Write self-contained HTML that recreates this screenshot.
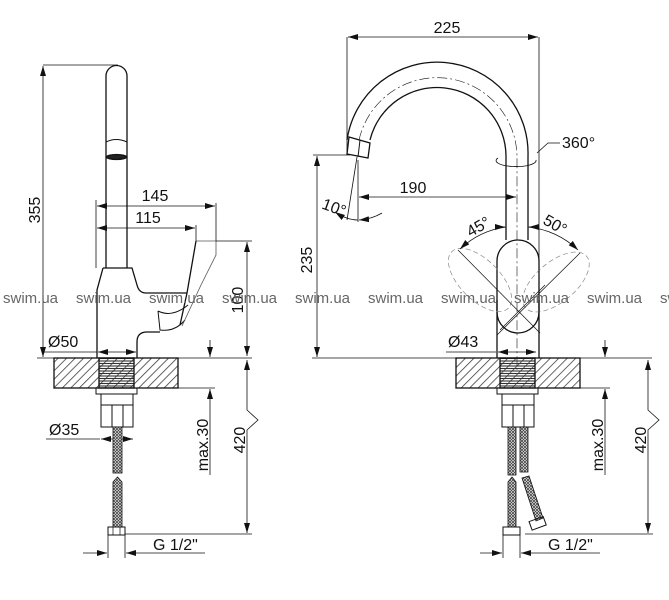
<!DOCTYPE html>
<html><head><meta charset="utf-8"><style>
html,body{margin:0;padding:0;background:#fff;}
svg{display:block;}
text{font-family:"Liberation Sans",sans-serif;fill:#111;}
.w{font-size:15px;fill:#666;}
</style></head><body>
<svg width="669" height="600" viewBox="0 0 669 600" xmlns="http://www.w3.org/2000/svg">
<defs>
<marker id="a" viewBox="0 0 10 6" refX="10" refY="3" markerWidth="10" markerHeight="6" orient="auto-start-reverse" markerUnits="userSpaceOnUse"><path d="M0,0 L10,3 L0,6z" fill="#111"/></marker>
<pattern id="h" width="6" height="6" patternUnits="userSpaceOnUse" patternTransform="rotate(45)"><line x1="0" y1="0" x2="0" y2="6" stroke="#333" stroke-width="1.5"/></pattern>
<pattern id="th" width="4" height="2.5" patternUnits="userSpaceOnUse"><line x1="0" y1="1" x2="4" y2="1" stroke="#333" stroke-width="1.1"/></pattern>
<pattern id="br" width="3" height="3" patternUnits="userSpaceOnUse"><rect width="3" height="3" fill="#fff"/><path d="M0,0 L3,3 M3,0 L0,3" stroke="#444" stroke-width="0.8"/></pattern>
</defs>
<g fill="none" stroke="#111" stroke-width="1.3">
<path d="M106,268 L106,76 A10.5,10.5 0 0 1 127,76 L127,268"/>
<path d="M106,142 Q116,137 127,142" stroke-width="1"/>
<ellipse cx="116.5" cy="157" rx="10" ry="2.5" fill="#222"/>
<path d="M103,268 L132,268 L137,285 Q139,293 146,293 L187,293"/>
<path d="M103,268 L97,290 L97,358"/>
<path d="M196,241 L187,293 L180,325"/>
<path d="M158,311 Q172,318 188,305" stroke-width="1"/>
<path d="M158,311 L160,330 Q175,332 185,320" stroke-width="1"/>
<path d="M196,241 L216,241 L216,255 L201,285 L182,326" stroke-width="0.8" stroke="#555"/>
<path d="M160,332 L147,332 Q137,332 137,342 L137,358"/>
<g stroke-width="0.8">
<line x1="43" y1="65" x2="118" y2="65"/>
<line x1="43" y1="66" x2="43" y2="357" marker-start="url(#a)" marker-end="url(#a)"/>
<line x1="96" y1="200" x2="96" y2="268"/>
<line x1="97" y1="206" x2="215" y2="206" marker-start="url(#a)" marker-end="url(#a)"/>
<line x1="216" y1="203" x2="216" y2="241"/>
<line x1="97" y1="228" x2="195" y2="228" marker-start="url(#a)" marker-end="url(#a)"/>
<line x1="196" y1="225" x2="196" y2="241"/>
<line x1="216" y1="241" x2="252" y2="241"/>
<line x1="247" y1="242" x2="247" y2="356" marker-start="url(#a)" marker-end="url(#a)"/>
<line x1="43" y1="352" x2="97" y2="352"/>
<line x1="98" y1="352" x2="136" y2="352" marker-start="url(#a)" marker-end="url(#a)"/>
<line x1="37" y1="358" x2="252" y2="358"/>
<line x1="210" y1="340" x2="210" y2="357" marker-end="url(#a)"/>
<line x1="210" y1="389" x2="210" y2="475" marker-start="url(#a)"/>
<line x1="178" y1="388" x2="215" y2="388"/>
<path d="M247,360 L247,410 L258,420 L247,430 L247,533" marker-start="url(#a)" marker-end="url(#a)"/>
<line x1="125" y1="534" x2="252" y2="534"/>
<line x1="46" y1="439" x2="100" y2="439"/>
<line x1="101" y1="439" x2="133" y2="439" marker-start="url(#a)" marker-end="url(#a)"/>
<line x1="108" y1="535" x2="108" y2="558"/><line x1="125" y1="535" x2="125" y2="558"/>
<line x1="83" y1="553" x2="107" y2="553" marker-end="url(#a)"/>
<line x1="205" y1="553" x2="126" y2="553" marker-end="url(#a)"/>
</g>
<rect x="54" y="358" width="124" height="30" fill="url(#h)"/>
<rect x="99" y="358" width="35" height="30" fill="url(#th)"/>
<path d="M96,388 L96,394 L137,394 L137,388 M101,394 L101,427 L133,427 L133,394 M101,405 L133,405 M112,405 L112,427 M123,405 L123,427" stroke-width="1"/>
<rect x="113" y="427" width="9" height="46" fill="url(#br)" stroke-width="0.8"/>
<path d="M113,482 L117.5,477 L122,482 L122,527 L113,527z" fill="url(#br)" stroke-width="0.8"/>
<rect x="108" y="527" width="17" height="8" stroke-width="1"/>
<path d="M113,527 L113,535 M120,527 L120,535" stroke-width="0.7"/>

<path d="M347,140 A91,91 0 0 1 528,156 L528,240"/>
<path d="M370,140 A69,69 0 0 1 506,156 L506,240"/>
<path d="M359,140 A80,80 0 0 1 517,156 L517,370" stroke-width="0.6" stroke-dasharray="10,3,2,3"/>
<path d="M349,137 L370,143 L368,158 L347,154z"/>
<line x1="360" y1="140" x2="358" y2="157" stroke-width="1"/>
<rect x="497" y="240" width="42" height="93" rx="21"/>
<path d="M497,300 L497,358 M539,300 L539,358"/>
<g stroke-width="0.7" stroke="#888" stroke-dasharray="5,3">
<ellipse cx="480" cy="280" rx="20" ry="40" transform="rotate(-45 480 280)"/>
<ellipse cx="556" cy="282" rx="20" ry="40" transform="rotate(50 556 282)"/>
</g>
<g stroke-width="0.7">
<line x1="458" y1="250" x2="540" y2="333"/>
<line x1="580" y1="253" x2="497" y2="335"/>
<line x1="500" y1="330" x2="545" y2="285"/>
</g>
<path d="M498,158 A20,6 0 1 0 536,160" stroke-width="0.8"/>
<g stroke-width="0.8">
<line x1="347" y1="37" x2="347" y2="155"/>
<line x1="539" y1="37" x2="539" y2="358"/>
<line x1="348" y1="37" x2="538" y2="37" marker-start="url(#a)" marker-end="url(#a)"/>
<path d="M537,153 L548,143 L560,143"/>
<line x1="313" y1="155" x2="350" y2="155"/>
<line x1="317" y1="156" x2="317" y2="357" marker-start="url(#a)" marker-end="url(#a)"/>
<line x1="312" y1="358" x2="456" y2="358"/>
<line x1="358" y1="160" x2="358" y2="222"/>
<line x1="357" y1="157" x2="347" y2="220"/>
<path d="M335,212 Q347,220 358,220" marker-start="url(#a)"/>
<path d="M359,220 Q372,219 382,213" marker-start="url(#a)"/>
<line x1="359" y1="197" x2="516" y2="197" marker-start="url(#a)" marker-end="url(#a)"/>
<path d="M460,249 A84,84 0 0 1 506,227" marker-start="url(#a)"/>
<path d="M528,227 A84,84 0 0 1 578,250" marker-end="url(#a)"/>
<line x1="500" y1="227" x2="505" y2="227" marker-end="url(#a)"/>
<line x1="535" y1="227" x2="529" y2="227" marker-end="url(#a)"/>
<line x1="446" y1="352" x2="496" y2="352"/>
<line x1="498" y1="352" x2="536" y2="352" marker-start="url(#a)" marker-end="url(#a)"/>
<line x1="580" y1="358" x2="652" y2="358"/>
<line x1="605" y1="340" x2="605" y2="357" marker-end="url(#a)"/>
<line x1="605" y1="389" x2="605" y2="475" marker-start="url(#a)"/>
<line x1="578" y1="388" x2="610" y2="388"/>
<path d="M648,360 L648,410 L659,420 L648,430 L648,533" marker-start="url(#a)" marker-end="url(#a)"/>
<line x1="525" y1="534" x2="653" y2="534"/>
<line x1="503" y1="535" x2="503" y2="558"/><line x1="520" y1="535" x2="520" y2="558"/>
<line x1="480" y1="553" x2="502" y2="553" marker-end="url(#a)"/>
<line x1="600" y1="553" x2="521" y2="553" marker-end="url(#a)"/>
</g>
<rect x="456" y="358" width="124" height="30" fill="url(#h)"/>
<rect x="500" y="358" width="35" height="30" fill="url(#th)"/>
<path d="M497,388 L497,394 L538,394 L538,388 M502,394 L502,427 L534,427 L534,394 M502,405 L534,405 M513,405 L513,427 M524,405 L524,427" stroke-width="1"/>
<rect x="508" y="427" width="8" height="48" fill="url(#br)" stroke-width="0.8"/>
<rect x="520" y="427" width="8" height="45" fill="url(#br)" stroke-width="0.8"/>
<path d="M508,482 L512,477 L516,482 L516,527 L508,527z" fill="url(#br)" stroke-width="0.8"/>
<path d="M522,478 L529,476 L543,518 L536,521z" fill="url(#br)" stroke-width="0.8"/>
<rect x="503" y="527" width="17" height="8" stroke-width="1"/>
<rect x="530" y="519" width="15" height="9" stroke-width="1" transform="rotate(-20 537 523)"/>
</g>
<g font-size="16">
<text x="40" y="210" transform="rotate(-90 40 210)" text-anchor="middle">355</text>
<text x="155" y="201" text-anchor="middle">145</text>
<text x="148" y="223" text-anchor="middle">115</text>
<text x="243" y="300" transform="rotate(-90 243 300)" text-anchor="middle">100</text>
<text x="48" y="347">Ø50</text>
<text x="49" y="435">Ø35</text>
<text x="208" y="445" transform="rotate(-90 208 445)" text-anchor="middle">max.30</text>
<text x="245" y="440" transform="rotate(-90 245 440)" text-anchor="middle">420</text>
<text x="153" y="550">G 1/2"</text>
<text x="447" y="33" text-anchor="middle">225</text>
<text x="562" y="148">360°</text>
<text x="413" y="193" text-anchor="middle">190</text>
<text x="322" y="212" transform="rotate(20 332 207)">10°</text>
<text x="312" y="260" transform="rotate(-90 312 260)" text-anchor="middle">235</text>
<text x="478" y="230" transform="rotate(-30 482 225)" text-anchor="middle">45°</text>
<text x="555" y="230" transform="rotate(30 555 225)" text-anchor="middle">50°</text>
<text x="448" y="347">Ø43</text>
<text x="603" y="445" transform="rotate(-90 603 445)" text-anchor="middle">max.30</text>
<text x="646" y="440" transform="rotate(-90 646 440)" text-anchor="middle">420</text>
<text x="548" y="550">G 1/2"</text>
</g>
<g>
<text class="w" x="3" y="303">swim.ua</text>
<text class="w" x="76" y="303">swim.ua</text>
<text class="w" x="149" y="303">swim.ua</text>
<text class="w" x="222" y="303">swim.ua</text>
<text class="w" x="295" y="303">swim.ua</text>
<text class="w" x="368" y="303">swim.ua</text>
<text class="w" x="441" y="303">swim.ua</text>
<text class="w" x="514" y="303">swim.ua</text>
<text class="w" x="587" y="303">swim.ua</text>
<text class="w" x="660" y="303">swim.ua</text>
</g>
</svg>
</body></html>
